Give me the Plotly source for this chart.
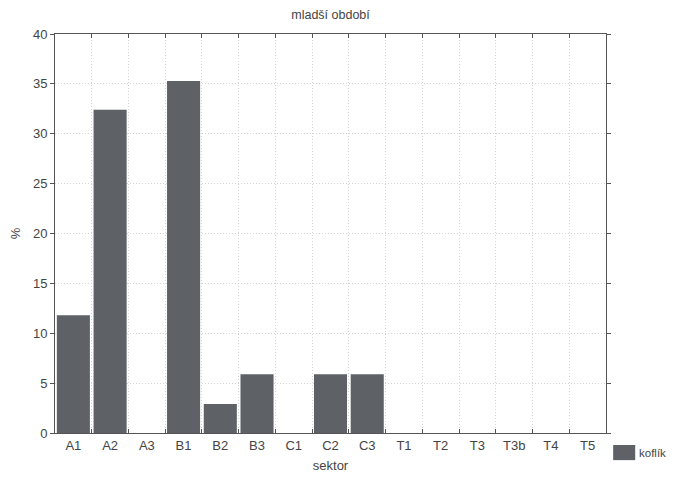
import plotly.graph_objects as go

categories = ["A1", "A2", "A3", "B1", "B2", "B3", "C1", "C2", "C3", "T1", "T2", "T3", "T3b", "T4", "T5"]
values = [11.8, 32.4, 0, 35.3, 2.9, 5.9, 0, 5.9, 5.9, 0, 0, 0, 0, 0, 0]
y_ticks = [0, 5, 10, 15, 20, 25, 30, 35, 40]
series_name = "koflík"

font = "Liberation Sans, Arial, sans-serif"
txt = "#444444"
axis_col = "#555555"
grid_col = "#d4d4d4"
bar_col = "#5e6165"

W, H = 668, 470
ML, MR, MT, MB = 47, 70, 26, 45

fig = go.Figure()
fig.add_trace(go.Bar(
    x=categories, y=values, name=series_name,
    marker=dict(color=bar_col, line=dict(width=0)),
    showlegend=False,
))

# legend drawn in paper space (swatch + label)
fig.add_shape(type="rect", xref="paper", yref="paper",
              x0=1.0130, x1=1.0530, y0=-0.030, y1=-0.068,
              fillcolor=bar_col, line=dict(width=0))
fig.add_annotation(text=series_name, xref="paper", yref="paper",
                   x=1.056, y=-0.050, xanchor="left", yanchor="middle",
                   showarrow=False, font=dict(size=11.5, color=txt))

fig.update_layout(
    width=W, height=H,
    margin=dict(l=ML, r=MR, t=MT, b=MB),
    paper_bgcolor="white", plot_bgcolor="white",
    bargap=0.1,
    showlegend=False,
    font=dict(family=font, size=13, color=txt),
    title=dict(text="mladší období", x=(ML + (W - ML - MR) / 2) / W, xanchor="center",
               y=1 - 7 / H, yanchor="middle", font=dict(size=12.5, color=txt)),
)

fig.update_xaxes(
    type="category", tickson="boundaries", automargin=False,
    showline=True, linecolor=axis_col, linewidth=1, mirror="ticks",
    ticks="inside", ticklen=4, tickcolor=axis_col,
    showgrid=True, gridcolor=grid_col, griddash="1px,2px", gridwidth=1,
    title=dict(text="sektor", standoff=9, font=dict(size=13, color=txt)),
    tickfont=dict(size=13, color=txt),
)
fig.update_yaxes(
    range=[0, 40], tickvals=y_ticks, automargin=False,
    showline=True, linecolor=axis_col, linewidth=1, mirror="ticks",
    ticks="outside", ticklen=4, tickcolor=axis_col,
    showgrid=True, gridcolor=grid_col, griddash="1px,2px", gridwidth=1,
    zeroline=False,
    title=dict(text="%", standoff=15, font=dict(size=13, color=txt)),
    tickfont=dict(size=13, color=txt),
)

fig.write_html("out.html")
